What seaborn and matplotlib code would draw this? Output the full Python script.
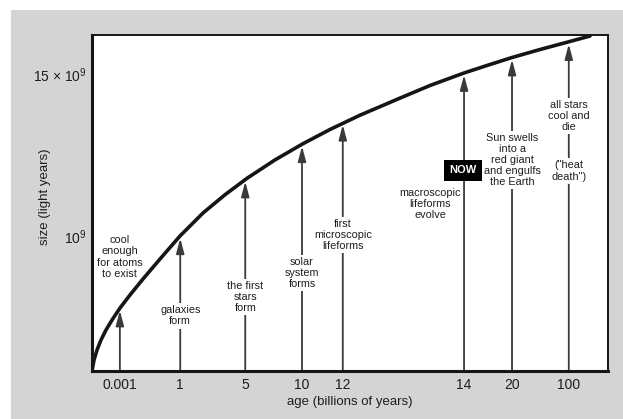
"""Schematic: size of the universe against age, with milestones"""

import numpy as np
import pandas as pd
import seaborn as sns
import matplotlib.pyplot as plt
from matplotlib.patches import Rectangle

# schematic axes, both scaled 0-100 across the plot box
curve_x = [0, 0.39, 0.97, 1.74, 2.71, 3.88, 5.43, 7.36, 9.88, 13.18, 17.05, 21.51,
           25.78, 30.04, 35.47, 40.89, 46.12, 51.94, 59.69, 65.50, 72.09, 77.13,
           81.40, 86.82, 92.25, 96.51]
curve_y = [0, 3.27, 6.25, 9.23, 12.20, 15.18, 18.75, 22.62, 27.38, 33.33, 40.18, 47.02,
           52.47, 57.35, 62.83, 67.65, 71.88, 76.13, 81.22, 84.97, 88.69, 91.22,
           93.30, 95.68, 97.92, 99.70]

ages = ['0.001', '1', '5', '10', '12', '14', '20', '100']
age_pos = [5.4, 17.1, 29.7, 40.7, 48.6, 72.1, 81.4, 92.4]
tip_size = [18.0, 39.5, 56.4, 66.9, 73.3, 88.1, 92.7, 97.3]

events = ['cool\nenough\nfor atoms\nto exist', 'galaxies\nform', 'the first\nstars\nform',
          'solar\nsystem\nforms', 'first\nmicroscopic\nlifeforms',
          'macroscopic\nlifeforms\nevolve', 'Sun swells\ninto a\nred giant\nand engulfs\nthe Earth',
          'all stars\ncool and\ndie']
event_x = [5.4, 17.1, 29.7, 40.7, 48.6, 65.5, 81.4, 92.4]
event_y = [33.9, 16.4, 22.0, 29.2, 40.5, 49.7, 62.8, 75.9]

extra_text = '("heat\ndeath")'
extra_y = 59.5
now_x, now_y = 71.9, 59.8

size_ticks = [40.2, 88.4]
size_labels = ['10$^9$', '15 × 10$^9$']

sns.set_theme(style='white')
plt.rcParams['font.family'] = ['Liberation Sans', 'DejaVu Sans']
plt.rcParams['mathtext.default'] = 'regular'

txt = '#1e1e1e'
fig = plt.figure(figsize=(6.23, 4.19), dpi=100, facecolor='white')
fig.patches.append(Rectangle((11 / 623, 0), 1, 1 - 10 / 419, transform=fig.transFigure,
                             facecolor='#d4d4d4', edgecolor='none', zorder=-10))
ax = fig.add_axes([92 / 623, 48 / 419, 516 / 623, 336 / 419])
ax.set_facecolor('white')

df = pd.DataFrame({'age': curve_x, 'size': curve_y})
sns.lineplot(data=df, x='age', y='size', ax=ax, color='#151515', lw=2.6, zorder=5)

for pos, tip in zip(age_pos, tip_size):
    ax.annotate('', xy=(pos, tip), xytext=(pos, 0), zorder=2,
                arrowprops=dict(arrowstyle='-|>,head_length=0.75,head_width=0.2',
                                color='#3a3a3a', lw=1.3, shrinkA=0, shrinkB=0))

box = dict(facecolor='white', edgecolor='none', pad=1.5)
for i, (label, x, y) in enumerate(zip(events, event_x, event_y)):
    ax.text(x, y, label, ha='center', va='center', fontsize=7.8, color=txt,
            linespacing=1.15, bbox=box if i > 0 else None, zorder=3)
ax.text(age_pos[-1], extra_y, extra_text, ha='center', va='center', fontsize=7.8,
        color=txt, linespacing=1.15, bbox=box, zorder=3)
ax.text(now_x, now_y, 'NOW', ha='center', va='center', fontsize=8, fontweight='bold',
        color='white', zorder=6,
        bbox=dict(facecolor='black', edgecolor='none', pad=4))

ax.set_xlim(0, 100)
ax.set_ylim(0, 100)
ax.set_xticks(age_pos)
ax.set_xticklabels(ages)
ax.set_yticks(size_ticks)
ax.set_yticklabels(size_labels)
ax.tick_params(axis='both', length=0, labelsize=10, colors=txt)
ax.tick_params(axis='x', pad=5)
ax.tick_params(axis='y', pad=4)

ax.set_xlabel('age (billions of years)', fontsize=9.5, color=txt)
ax.set_ylabel('size (light years)', fontsize=9.5, color=txt)
ax.xaxis.set_label_coords(0.5, -0.075)
ax.yaxis.set_label_coords(-0.08, 0.52)

for side in ['left', 'bottom']:
    ax.spines[side].set_linewidth(2.2)
    ax.spines[side].set_color('#151515')
for side in ['top', 'right']:
    ax.spines[side].set_linewidth(1.4)
    ax.spines[side].set_color('#151515')

plt.savefig('out.png', dpi=100, facecolor='white')
